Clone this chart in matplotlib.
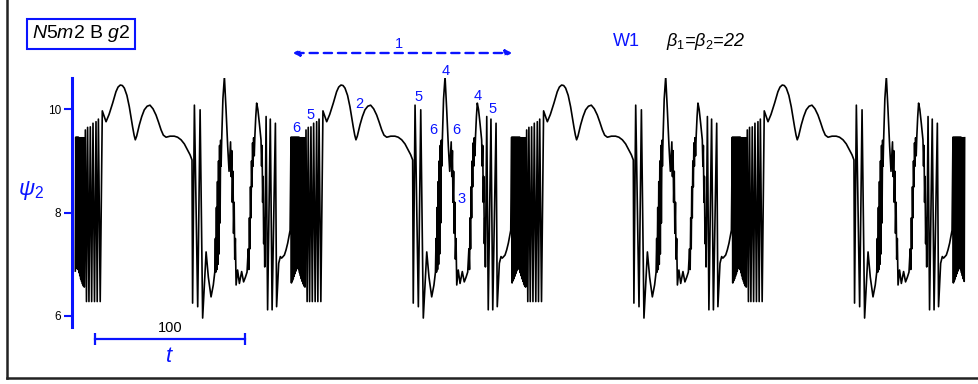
import numpy as np
import matplotlib
matplotlib.use("Agg")
import matplotlib.pyplot as plt

plt.rcParams['font.family'] = ['Liberation Sans', 'DejaVu Sans']
plt.rcParams['mathtext.fontset'] = 'custom'
plt.rcParams['mathtext.it'] = 'Liberation Sans:italic'
plt.rcParams['mathtext.rm'] = 'Liberation Sans'
plt.rcParams['mathtext.default'] = 'it'

BLUE = '#0a14ff'

# one cycle of psi_2(t) (t relative to the start of the "6" burst)
# burst "6"
t_burst = [0.0, 0.3, 0.6, 0.9, 1.2, 1.5, 1.8, 2.1, 2.4, 2.7, 3.0, 3.3, 3.6, 3.9, 4.2, 4.5,
           4.8, 5.1, 5.4, 5.7, 6.0, 6.3, 6.6, 6.9, 7.2, 7.5, 7.8, 8.1, 8.4, 8.7, 9.0, 9.3]
p_burst = [9.46, 6.64, 9.46, 6.68, 9.46, 6.72, 9.46, 6.77, 9.46, 6.82, 9.46, 6.87, 9.46, 6.92, 9.46, 6.96,
           9.46, 6.90, 9.46, 6.84, 9.45, 6.78, 9.45, 6.72, 9.45, 6.67, 9.45, 6.62, 9.45, 6.58, 9.45, 6.56]
# spikes "5"
t_five = [10.0, 10.75, 11.5, 12.4, 13.3, 14.2, 15.1, 16.1, 17.1, 17.9, 18.7, 19.9, 21.3]
p_five = [9.60, 6.28, 9.65, 6.28, 9.66, 6.28, 9.73, 6.28, 9.76, 6.28, 9.81, 6.28, 9.97]
# smooth humps "2"
t_hump = [23.8, 25.8, 28.2, 30.4, 31.8, 33.3, 34.7, 36.0, 37.7, 39.3, 41.5, 42.5, 43.3, 44.2,
          45.0, 46.0, 47.6, 49.3, 51.2, 53.1, 55.1, 57.1, 58.8, 60.5, 62.0, 63.8, 66.5, 69.3,
          71.5, 73.8, 76.0, 78.2, 79.8, 81.1]
p_hump = [9.76, 9.90, 10.12, 10.34, 10.43, 10.47, 10.46, 10.41, 10.27, 10.05, 9.66, 9.50, 9.41, 9.48,
          9.58, 9.70, 9.86, 9.99, 10.06, 10.08, 10.01, 9.89, 9.75, 9.60, 9.50, 9.46, 9.48, 9.48,
          9.46, 9.41, 9.33, 9.21, 9.12, 9.02]
# spikes "5", dip, "6" and peak "4"
t_mid = [81.5, 82.7, 84.9, 86.5, 88.2, 90.5, 92.0, 93.8, 95.3, 96.3, 96.7, 97.0, 97.4, 97.7,
         98.1, 98.4, 98.8, 99.1, 99.5, 99.8, 100.2, 100.5, 100.9, 101.7, 102.7, 103.8, 104.9,
         105.8, 106.8, 107.2, 107.6, 108.0, 108.4, 108.8, 109.2, 109.6, 110.0, 110.5, 111.5,
         112.7, 114.2, 115.5, 116.7, 117.8]
p_mid = [6.25, 10.08, 6.18, 9.99, 5.96, 7.24, 6.75, 6.37, 6.60, 6.85, 7.5, 6.85, 8.1, 6.9,
         8.6, 7.0, 9.0, 7.2, 9.3, 7.8, 9.4, 8.9, 9.42, 10.2, 10.63, 9.99, 9.28,
         8.8, 9.37, 8.7, 9.2, 8.2, 8.8, 7.6, 8.2, 7.1, 7.5, 6.60, 6.89,
         6.63, 6.86, 6.66, 6.75, 6.85]
# "3", second "4", "5" and tail
t_end = [118.6, 119.0, 119.4, 119.7, 120.1, 120.4, 120.8, 121.1, 121.5, 121.8, 122.2, 122.6,
         123.0, 123.6, 124.2, 125.0, 126.0, 127.1, 127.5, 127.8, 128.2, 128.5, 128.9, 129.2,
         129.6, 130.5, 131.5, 133.3, 134.5, 136.7, 137.5, 138.9, 140.0, 140.8, 141.5, 142.7,
         143.8, 144.9, 146.0, 146.5]
p_end = [7.3, 6.9, 7.9, 7.3, 8.5, 7.9, 9.0, 8.5, 9.35, 8.9, 9.45, 9.1,
         9.47, 9.85, 10.12, 10.0, 9.73, 9.41, 8.9, 9.3, 8.2, 8.7, 7.4, 7.9,
         6.95, 9.86, 6.12, 9.81, 6.12, 9.73, 6.18, 7.02, 7.15, 7.12, 7.14, 7.18,
         7.28, 7.41, 7.58, 7.66]

period = 147.1
first_start = -3.1
t_stop = 593.3

t_cycle = np.array(t_burst + t_five + t_hump + t_mid + t_end)
p_cycle = np.array(p_burst + p_five + p_hump + p_mid + p_end)

t_all = np.concatenate([t_cycle + first_start + k * period for k in range(5)])
p_all = np.tile(p_cycle, 5)
keep = (t_all >= 0) & (t_all <= t_stop)
t_all, p_all = t_all[keep], p_all[keep]

W, H = 979, 384
fig = plt.figure(figsize=(W / 100, H / 100), dpi=100)
ax = fig.add_axes([72 / W, 1 - 327 / H, 900 / W, 249 / H])
ax.plot(t_all, p_all, color='black', lw=1.2)
ax.set_xlim(-2, 598)
ax.set_ylim(5.787, 10.606)

for s in ['top', 'right', 'bottom']:
    ax.spines[s].set_visible(False)
ax.spines['left'].set_color(BLUE)
ax.spines['left'].set_linewidth(2.2)
ax.set_xticks([])
ax.set_yticks([6, 8, 10])
ax.tick_params(axis='y', colors=BLUE, length=6, width=1.5, labelsize=8.5, pad=2,
               labelcolor='black')

# scale bar for t
ax.plot([13.3, 113.3], [5.555, 5.555], color=BLUE, lw=1.6, clip_on=False,
        marker='|', markersize=8, markeredgewidth=1.6)


def px(x, y):
    return x / W, 1 - y / H


fig.text(*px(170, 328), '100', fontsize=10.5, ha='center', va='center')
fig.text(*px(169, 356), '$t$', fontsize=16, color=BLUE, ha='center', va='center')
fig.text(*px(31, 190), r'$\psi_2$', fontsize=16, color=BLUE, ha='center', va='center')

fig.text(*px(81, 34), r'$N$5$m$2 B $g2$', fontsize=14, ha='center', va='center',
         bbox=dict(boxstyle='square,pad=0.22', fc='white', ec=BLUE, lw=1.5))
fig.text(*px(626, 42), 'W1', fontsize=13, color=BLUE, ha='center', va='center')
fig.text(*px(705, 42), r'$\beta_1$=$\beta_2$=22', fontsize=13,
         style='italic', ha='center', va='center')

# dashed double arrow "1"
fig.patches.append(matplotlib.patches.FancyArrowPatch(
    px(290, 53), px(515, 53), transform=fig.transFigure, arrowstyle='<|-|>',
    mutation_scale=9, color=BLUE, lw=1.7, linestyle=(0, (3.5, 2.5))))
fig.text(*px(399, 44), '1', fontsize=10.5, color=BLUE, ha='center', va='center')

labels = [('6', 296.7, 127.7), ('5', 311, 115), ('2', 359, 104), ('5', 418.3, 97.3),
          ('4', 445.7, 70.7), ('6', 433.3, 130), ('6', 456, 130), ('3', 461.7, 199.3),
          ('4', 477.7, 96), ('5', 492.3, 109.3)]
for s, x, y in labels:
    fig.text(*px(x, y), s, fontsize=10.5, color=BLUE, ha='center', va='center')

# frame
fig.add_artist(plt.Line2D([7 / W, 7 / W], [1 - 378 / H, 1], transform=fig.transFigure,
                          color='#222222', lw=1.8))
fig.add_artist(plt.Line2D([7 / W, 1], [1 - 378 / H, 1 - 378 / H], transform=fig.transFigure,
                          color='#222222', lw=1.8))

fig.savefig('out.png', dpi=100)
